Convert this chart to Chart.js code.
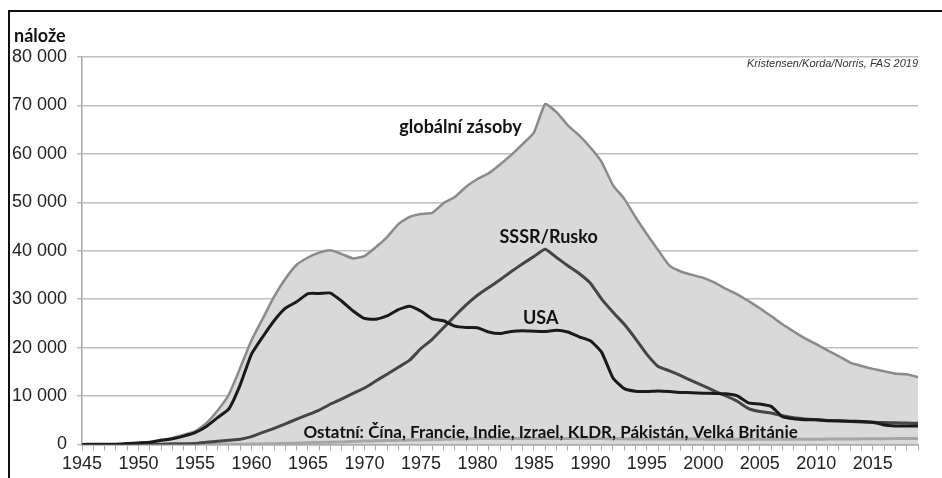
<!DOCTYPE html>
<html>
<head>
<meta charset="utf-8">
<script src="https://cdn.jsdelivr.net/npm/chart.js@4/dist/chart.umd.min.js"></script>
<style>
  html, body { margin: 0; padding: 0; background: #fff; }
  #wrap { position: relative; width: 942px; height: 478px; }
</style>
</head>
<body>
<div id="wrap"><canvas id="stockpile-chart"></canvas></div>
<script>
// jaderné nálože 1945–2019 (Kristensen/Korda/Norris, FAS 2019)
const years = [
  "1945","1946","1947","1948","1949","1950","1951","1952","1953","1954",
  "1955","1956","1957","1958","1959","1960","1961","1962","1963","1964",
  "1965","1966","1967","1968","1969","1970","1971","1972","1973","1974",
  "1975","1976","1977","1978","1979","1980","1981","1982","1983","1984",
  "1985","1986","1987","1988","1989","1990","1991","1992","1993","1994",
  "1995","1996","1997","1998","1999","2000","2001","2002","2003","2004",
  "2005","2006","2007","2008","2009","2010","2011","2012","2013","2014",
  "2015","2016","2017","2018","2019"
];
const shownYears = ["1945","1950","1955","1960","1965","1970","1975","1980","1985","1990","1995","2000","2005","2010","2015"];

const globalStock = [
  2, 9, 13, 50, 171, 305, 470, 900, 1350, 2000,
  2700, 4400, 7000, 10300, 15800, 21500, 26000, 30500, 34200, 37100,
  38600, 39600, 40100, 39300, 38400, 38900, 40700, 42800, 45500, 47000,
  47600, 47800, 49800, 51100, 53200, 54800, 56000, 57800, 59800, 62000,
  64400, 70300, 68600, 65900, 63800, 61300, 58300, 53500, 50700, 46900,
  43400, 40100, 36900, 35700, 35000, 34400, 33400, 32100, 31000, 29600,
  28100, 26500, 24800, 23300, 21900, 20700, 19400, 18200, 16900, 16200,
  15600, 15100, 14600, 14500, 13900
];
const usa = [
  2, 9, 13, 50, 170, 299, 438, 841, 1169, 1703,
  2422, 3692, 5543, 7345, 12298, 18638, 22229, 25540, 28133, 29463,
  31139, 31175, 31255, 29561, 27552, 26008, 25830, 26516, 27835, 28537,
  27519, 25914, 25542, 24418, 24138, 24104, 23208, 22886, 23305, 23459,
  23368, 23317, 23575, 23205, 22217, 21392, 19008, 13708, 11511, 10979,
  10904, 11011, 10903, 10732, 10685, 10577, 10526, 10457, 10027, 8570,
  8360, 7853, 5709, 5273, 5113, 5066, 4897, 4881, 4804, 4717,
  4571, 4018, 3822, 3785, 3800
];
const russia = [
  0, 0, 0, 0, 1, 5, 25, 50, 120, 150,
  200, 426, 660, 869, 1060, 1605, 2471, 3322, 4238, 5221,
  6129, 7089, 8339, 9399, 10538, 11643, 13092, 14478, 15915, 17385,
  19800, 21700, 24100, 26500, 28800, 30800, 32400, 34000, 35700, 37300,
  38800, 40300, 38600, 36900, 35300, 33300, 30000, 27300, 24800, 21800,
  18600, 16100, 15200, 14200, 13100, 12100, 11000, 10000, 8900, 7400,
  6800, 6500, 5900, 5500, 5250, 5100, 4950, 4850, 4750, 4650,
  4550, 4500, 4450, 4400, 4350
];
const others = [
  0, 0, 0, 0, 0, 0, 0, 1, 2, 5,
  14, 20, 25, 30, 40, 60, 100, 150, 200, 250,
  350, 400, 450, 500, 600, 700, 750, 800, 850, 900,
  950, 1000, 1050, 1100, 1150, 1200, 1200, 1200, 1200, 1200,
  1200, 1200, 1200, 1200, 1200, 1200, 1200, 1150, 1150, 1100,
  1100, 1100, 1100, 1100, 1100, 1100, 1050, 1050, 1050, 1050,
  1050, 1050, 1050, 1050, 1050, 1050, 1100, 1100, 1100, 1150,
  1150, 1150, 1200, 1200, 1200
];

// popisky v grafu: [text, rok, hodnota, zarovnání, velikost písma]
const seriesLabels = [
  ["globální zásoby", 1978.5, 65500, "center", 18],
  ["SSSR/Rusko", 1986.3, 42700, "center", 18],
  ["USA", 1985.6, 26100, "center", 18],
  ["Ostatní: Čína, Francie, Indie, Izrael, KLDR, Pákistán, Velká Británie", 1964.6, 2500, "left", 17],
];

const fmt = v => String(v).replace(/\B(?=(\d{3})+(?!\d))/g, " ");

const decorations = {
  id: "decorations",
  beforeDraw(chart) {
    const ctx = chart.ctx;
    ctx.save();
    ctx.fillStyle = "#fff";
    ctx.fillRect(0, 0, chart.width, chart.height);
    ctx.strokeStyle = "#111";
    ctx.lineWidth = 2;
    ctx.beginPath();
    ctx.moveTo(9, chart.height);
    ctx.lineTo(9, 11);
    ctx.lineTo(chart.width, 11);
    ctx.stroke();
    ctx.restore();
  },
  afterDatasetsDraw(chart) {
    const ctx = chart.ctx;
    const xs = chart.scales.x, ys = chart.scales.y;
    const first = Number(years[0]);
    ctx.save();
    ctx.fillStyle = "#111";
    ctx.textBaseline = "middle";
    seriesLabels.forEach(([text, yr, val, align, size]) => {
      ctx.font = "bold " + size + "px Lato";
      ctx.textAlign = align;
      ctx.fillText(text, xs.getPixelForValue(yr - first), ys.getPixelForValue(val));
    });
    ctx.font = "bold 18px Lato";
    ctx.textAlign = "left";
    ctx.fillText("nálože", 14, 36);
    ctx.font = "italic 11px 'Liberation Sans'";
    ctx.fillStyle = "#333";
    ctx.textAlign = "right";
    ctx.fillText("Kristensen/Korda/Norris, FAS 2019", chart.chartArea.right, 64);
    ctx.restore();
  }
};

new Chart(document.getElementById("stockpile-chart"), {
  type: "line",
  data: {
    labels: years,
    datasets: [
      {
        label: "USA",
        data: usa,
        borderColor: "#1a1a1a",
        borderWidth: 3,
        pointRadius: 0,
        tension: 0.15,
        order: 0,
      },
      {
        label: "SSSR/Rusko",
        data: russia,
        borderColor: "#454545",
        borderWidth: 3,
        pointRadius: 0,
        tension: 0.15,
        order: 1,
      },
      {
        label: "Ostatní",
        data: others,
        borderColor: "#a6a6a6",
        borderWidth: 3,
        pointRadius: 0,
        tension: 0.15,
        order: 2,
      },
      {
        label: "globální zásoby",
        data: globalStock,
        borderColor: "#8a8a8a",
        backgroundColor: "#d9d9d9",
        borderWidth: 2.5,
        pointRadius: 0,
        tension: 0.15,
        fill: "origin",
        order: 3,
      },
    ],
  },
  options: {
    responsive: true,
    maintainAspectRatio: false,
    animation: false,
    layout: { padding: { left: 2, right: 24, top: 57, bottom: 0 } },
    plugins: {
      legend: { display: false },
      tooltip: { enabled: false },
    },
    scales: {
      x: {
        type: "category",
        offset: false,
        border: { color: "#a6a6a6", width: 1.5 },
        grid: { drawOnChartArea: false, drawTicks: true, tickLength: 6, color: "#a6a6a6" },
        ticks: {
          autoSkip: false,
          maxRotation: 0,
          padding: 3,
          color: "#222",
          font: { family: "'Liberation Sans'", size: 18 },
          callback: function (v) {
            const y = this.getLabelForValue(v);
            return shownYears.includes(y) ? y : "";
          },
        },
      },
      y: {
        min: 0,
        max: 80000,
        border: { color: "#a6a6a6", width: 1.5 },
        grid: { color: "#bfbfbf", lineWidth: 1.5, tickLength: 5 },
        ticks: {
          stepSize: 10000,
          padding: 10,
          color: "#222",
          font: { family: "'Liberation Sans'", size: 18 },
          callback: v => fmt(v),
        },
      },
    },
  },
  plugins: [decorations],
});
</script>
</body>
</html>
